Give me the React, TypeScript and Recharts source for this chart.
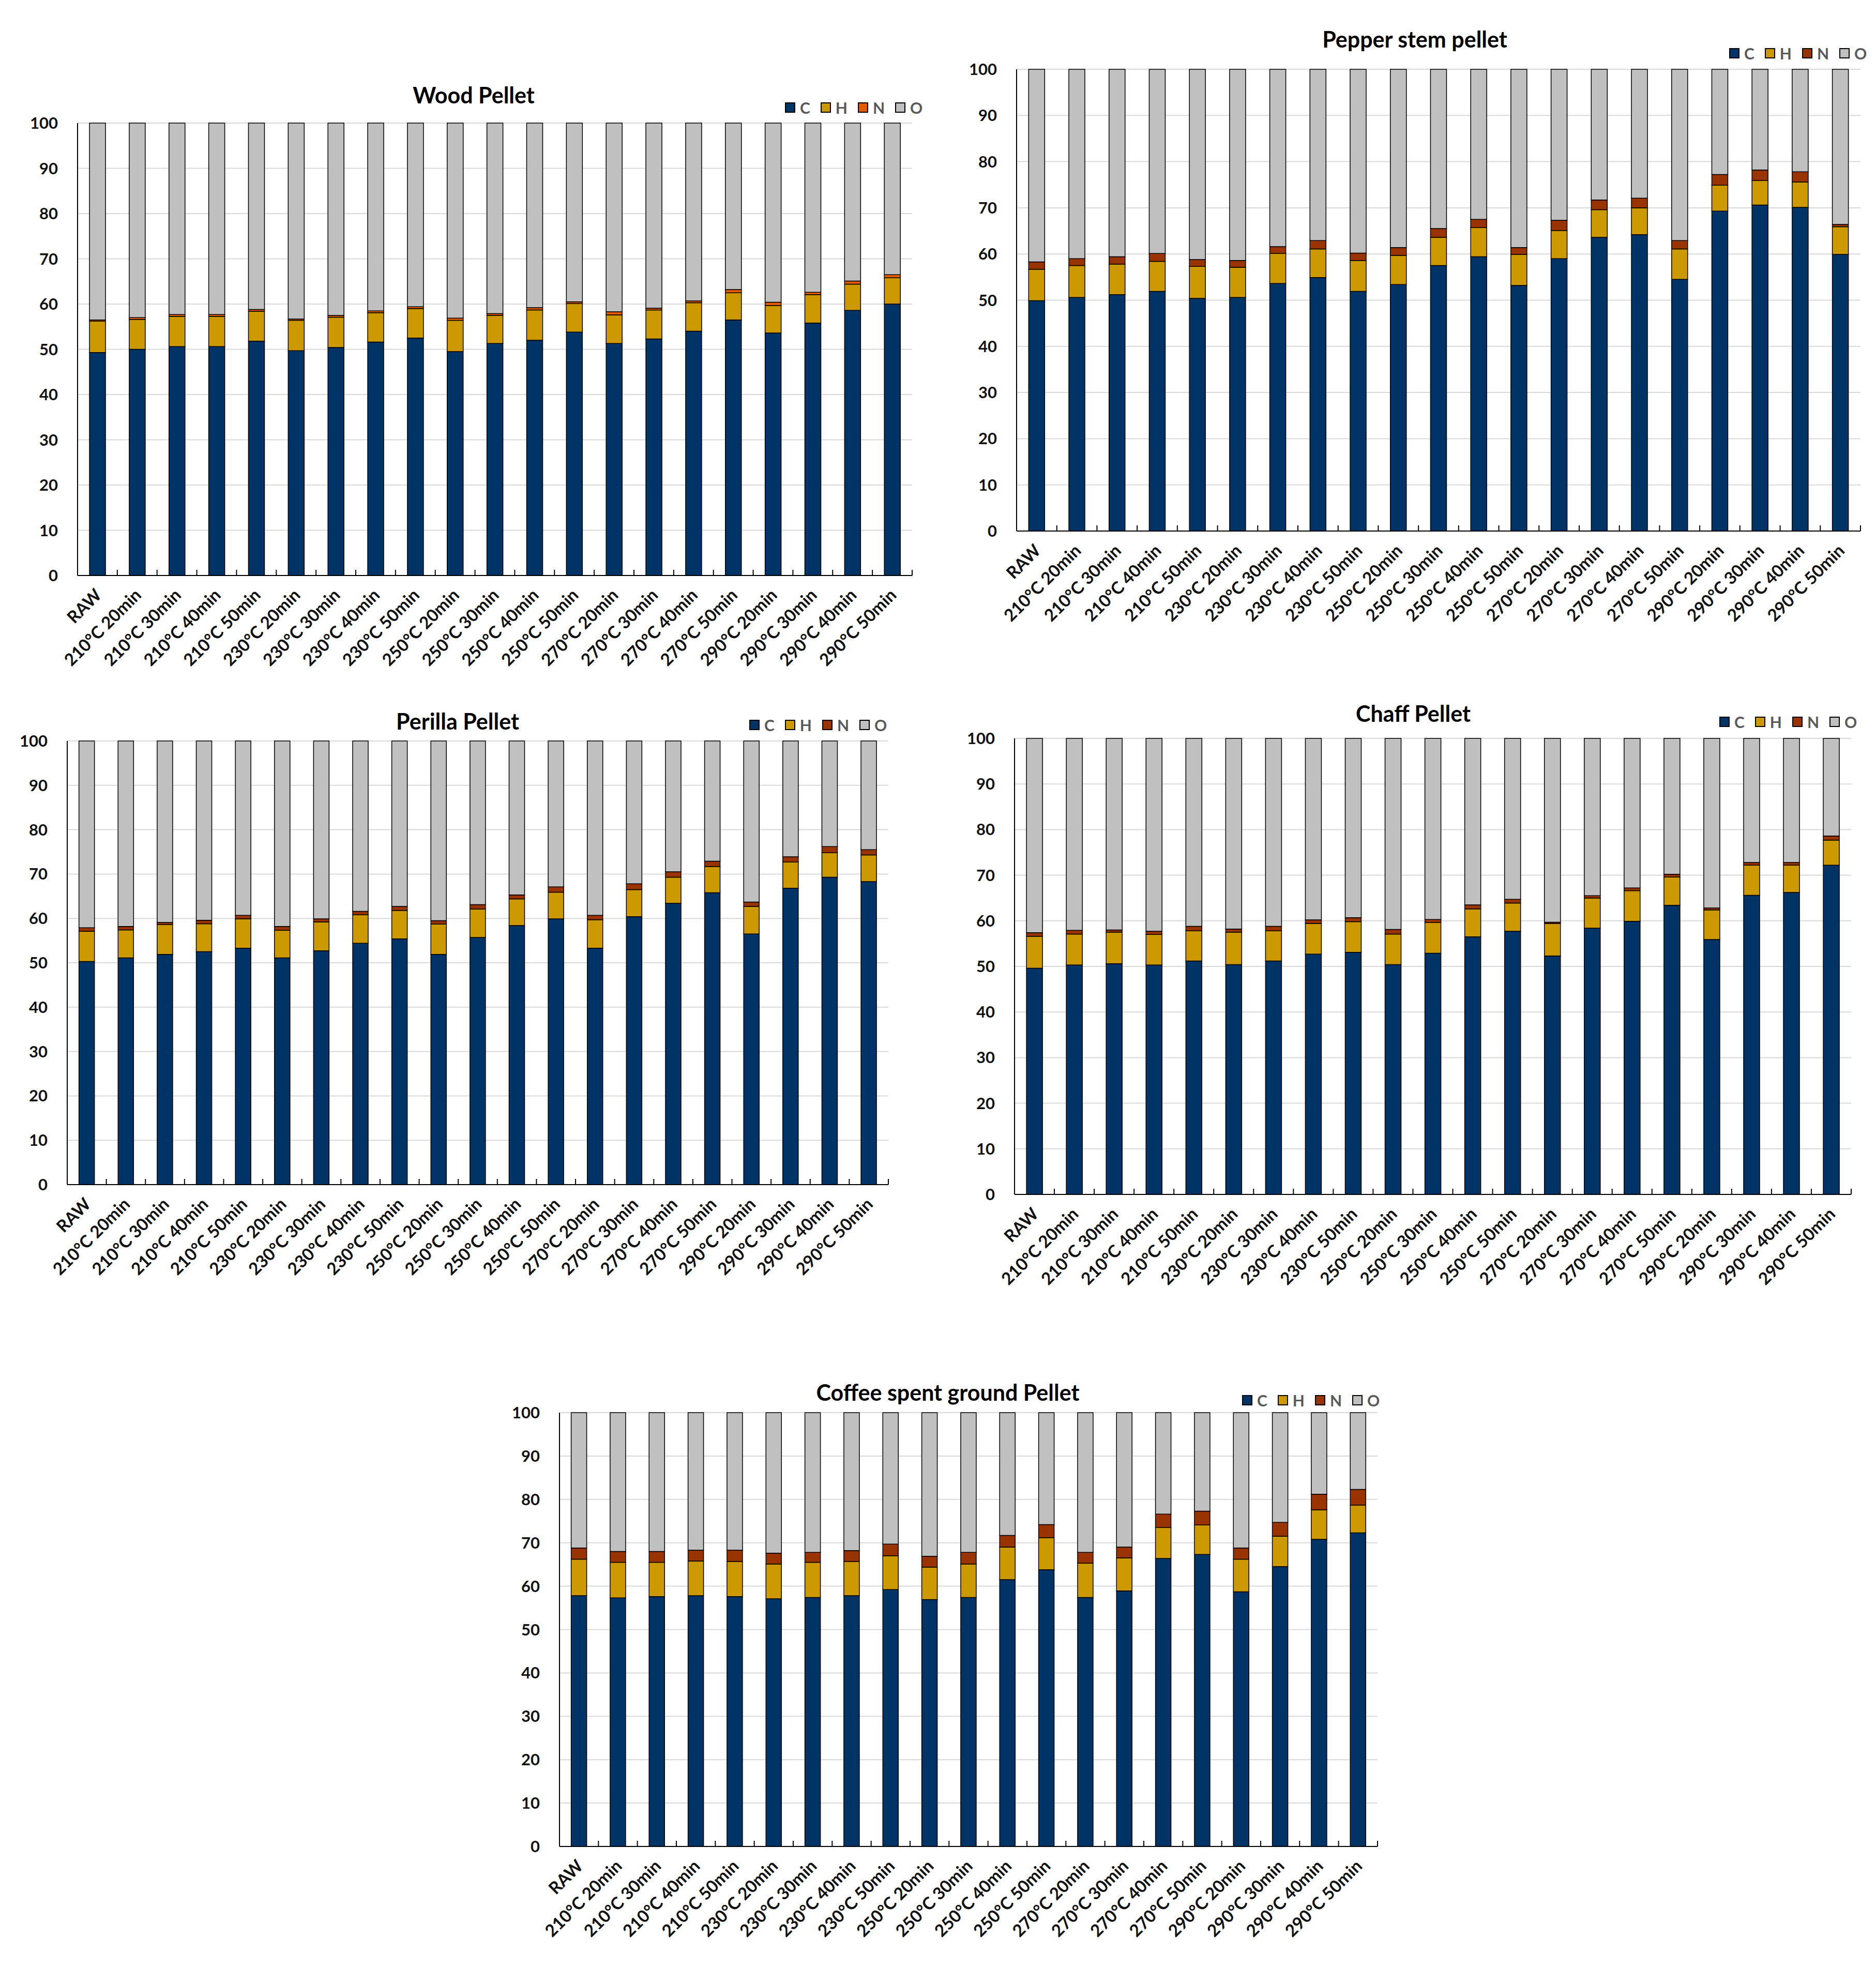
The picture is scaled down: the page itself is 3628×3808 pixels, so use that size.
import { BarChart, Bar, XAxis, YAxis, CartesianGrid } from 'recharts';

const categories = [
    'RAW',
    '210°C 20min', '210°C 30min', '210°C 40min', '210°C 50min',
    '230°C 20min', '230°C 30min', '230°C 40min', '230°C 50min',
    '250°C 20min', '250°C 30min', '250°C 40min', '250°C 50min',
    '270°C 20min', '270°C 30min', '270°C 40min', '270°C 50min',
    '290°C 20min', '290°C 30min', '290°C 40min', '290°C 50min',
];

const yTicks = [0, 10, 20, 30, 40, 50, 60, 70, 80, 90, 100];

// Wood Pellet (wt%)
const woodC = [49.3, 50.0, 50.6, 50.6, 51.8, 49.7, 50.4, 51.6, 52.5, 49.5, 51.3, 52.0, 53.8, 51.3, 52.3, 54.0, 56.5, 53.6, 55.8, 58.6, 60.0];
const woodH = [6.9, 6.6, 6.7, 6.7, 6.6, 6.7, 6.7, 6.5, 6.5, 6.9, 6.2, 6.7, 6.3, 6.3, 6.4, 6.3, 6.0, 6.1, 6.3, 5.8, 5.8];
const woodN = [0.3, 0.4, 0.4, 0.4, 0.4, 0.3, 0.4, 0.4, 0.4, 0.5, 0.4, 0.5, 0.4, 0.7, 0.4, 0.4, 0.7, 0.7, 0.5, 0.7, 0.7];
const woodO = [43.5, 43.0, 42.3, 42.3, 41.2, 43.3, 42.5, 41.5, 40.6, 43.1, 42.1, 40.8, 39.5, 41.7, 40.9, 39.3, 36.8, 39.6, 37.4, 34.9, 33.5];

// Pepper stem pellet
const pepperC = [49.9, 50.6, 51.2, 51.9, 50.4, 50.6, 53.6, 54.9, 51.9, 53.4, 57.5, 59.4, 53.2, 59.0, 63.6, 64.2, 54.5, 69.3, 70.6, 70.1, 59.9];
const pepperH = [6.8, 6.9, 6.6, 6.5, 6.9, 6.5, 6.5, 6.2, 6.7, 6.3, 6.1, 6.3, 6.7, 6.1, 6.0, 5.8, 6.6, 5.6, 5.3, 5.5, 6.0];
const pepperN = [1.6, 1.5, 1.6, 1.7, 1.5, 1.5, 1.5, 1.8, 1.6, 1.7, 1.9, 1.8, 1.5, 2.2, 2.1, 2.1, 1.8, 2.3, 2.3, 2.2, 0.5];
const pepperO = [41.7, 41.0, 40.6, 39.9, 41.2, 41.4, 38.4, 37.1, 39.8, 38.6, 34.5, 32.5, 38.6, 32.7, 28.3, 27.9, 37.1, 22.8, 21.8, 22.2, 33.6];

// Perilla Pellet
const perillaC = [50.3, 51.1, 51.9, 52.5, 53.3, 51.1, 52.7, 54.4, 55.4, 51.9, 55.7, 58.4, 59.9, 53.3, 60.4, 63.4, 65.8, 56.5, 66.8, 69.3, 68.3];
const perillaH = [6.8, 6.3, 6.7, 6.3, 6.6, 6.2, 6.5, 6.4, 6.4, 6.8, 6.4, 6.0, 6.0, 6.4, 6.1, 5.9, 5.9, 6.2, 5.9, 5.5, 6.0];
const perillaN = [0.8, 0.8, 0.5, 0.8, 0.8, 0.9, 0.7, 0.8, 0.9, 0.8, 1.0, 0.9, 1.2, 1.0, 1.3, 1.2, 1.2, 1.0, 1.2, 1.4, 1.2];
const perillaO = [42.1, 41.8, 40.9, 40.4, 39.3, 41.8, 40.1, 38.4, 37.3, 40.5, 36.9, 34.7, 32.9, 39.3, 32.2, 29.5, 27.1, 36.3, 26.1, 23.8, 24.5];

// Chaff Pellet
const chaffC = [49.6, 50.3, 50.6, 50.3, 51.2, 50.4, 51.2, 52.7, 53.1, 50.4, 52.9, 56.5, 57.7, 52.3, 58.4, 59.9, 63.4, 55.9, 65.6, 66.2, 72.2];
const chaffH = [7.0, 6.8, 6.9, 6.7, 6.6, 7.1, 6.6, 6.7, 6.7, 6.7, 6.7, 6.1, 6.2, 7.1, 6.6, 6.7, 6.2, 6.5, 6.6, 6.0, 5.5];
const chaffN = [0.8, 0.8, 0.5, 0.7, 1.0, 0.7, 1.0, 0.8, 0.9, 1.0, 0.7, 0.9, 0.8, 0.3, 0.5, 0.6, 0.6, 0.4, 0.6, 0.6, 0.9];
const chaffO = [42.6, 42.1, 42.0, 42.3, 41.2, 41.8, 41.2, 39.8, 39.3, 41.9, 39.7, 36.5, 35.3, 40.3, 34.5, 32.8, 29.8, 37.2, 27.2, 27.2, 21.4];

// Coffee spent ground Pellet
const coffeeC = [57.8, 57.3, 57.6, 57.8, 57.6, 57.1, 57.4, 57.8, 59.2, 56.9, 57.4, 61.5, 63.8, 57.4, 58.9, 66.4, 67.3, 58.7, 64.5, 70.8, 72.3];
const coffeeH = [8.4, 8.2, 7.9, 8.0, 8.1, 8.0, 8.1, 7.9, 7.8, 7.5, 7.7, 7.5, 7.4, 7.9, 7.6, 7.1, 6.8, 7.5, 7.0, 6.8, 6.4];
const coffeeN = [2.6, 2.5, 2.5, 2.5, 2.6, 2.5, 2.3, 2.5, 2.7, 2.5, 2.7, 2.7, 3.0, 2.5, 2.5, 3.1, 3.2, 2.6, 3.2, 3.6, 3.6];
const coffeeO = [31.2, 32.0, 32.0, 31.7, 31.7, 32.4, 32.2, 31.8, 30.3, 33.1, 32.2, 28.3, 25.8, 32.2, 31.0, 23.4, 22.7, 31.2, 25.3, 18.8, 17.7];

const FONT = 'Lato, "Open Sans", sans-serif';
const C_COLOR = '#003366';
const H_COLOR = '#CC9900';
const N_BROWN = '#993300';
const N_ORANGE = '#E55B00';
const O_COLOR = '#C0C0C0';

const YW = 150;
const XH = 250;
const MT = 30;
const MR = 10;

function buildRows(c: number[], h: number[], n: number[], o: number[]) {
    return categories.map((name, i) => ({ name, C: c[i], H: h[i], N: n[i], O: o[i] }));
}

// rotated category label plus the small inward tick mark on the band's right edge
const XTick = (props: any) => {
    const { x, y, payload, band } = props;
    const ax = x + 10;
    const ay = y + 40;
    return (
        <g>
            <line x1={x + band / 2} x2={x + band / 2} y1={y} y2={y - 11} stroke="#000" strokeWidth={2} />
            <text
                x={ax}
                y={ay}
                transform={`rotate(-45 ${ax} ${ay})`}
                textAnchor="end"
                fontSize={33}
                fontWeight={700}
                fontFamily={FONT}
                fill="#111"
            >
                {payload.value}
            </text>
        </g>
    );
};

type PanelProps = {
    title: string;
    rows: any[];
    nColor: string;
    left: number;
    top: number;
    right: number;
    bottom: number;
    titleX: number;
    titleY: number;
    legendX: number;
    legendY: number;
};

function Panel({ title, rows, nColor, left, top, right, bottom, titleX, titleY, legendX, legendY }: PanelProps) {
    const legendItems = [
        { key: 'C', color: C_COLOR },
        { key: 'H', color: H_COLOR },
        { key: 'N', color: nColor },
        { key: 'O', color: O_COLOR },
    ];
    const band = (right - left) / categories.length;
    return (
        <>
            <div
                style={{
                    position: 'absolute',
                    left: titleX,
                    top: titleY,
                    transform: 'translate(-50%, -50%)',
                    fontSize: 43,
                    fontWeight: 700,
                    color: '#000',
                    whiteSpace: 'nowrap',
                }}
            >
                {title}
            </div>
            <div
                style={{
                    position: 'absolute',
                    left: legendX,
                    top: legendY - 18,
                    height: 36,
                    display: 'flex',
                    alignItems: 'center',
                }}
            >
                {legendItems.map((it) => (
                    <div key={it.key} style={{ display: 'flex', alignItems: 'center', marginRight: 20 }}>
                        <span
                            style={{
                                width: 20,
                                height: 20,
                                boxSizing: 'border-box',
                                border: '2px solid #000',
                                background: it.color,
                                display: 'inline-block',
                            }}
                        />
                        <span style={{ marginLeft: 9, fontSize: 30, fontWeight: 700, color: '#595959' }}>{it.key}</span>
                    </div>
                ))}
            </div>
            <div style={{ position: 'absolute', left: left - YW, top: top - MT }}>
                <BarChart
                    width={right - left + YW + MR}
                    height={bottom - top + MT + XH}
                    data={rows}
                    margin={{ top: MT, right: MR, left: 0, bottom: 0 }}
                    barCategoryGap="30%"
                >
                    <CartesianGrid vertical={false} stroke="#d9d9d9" strokeWidth={2} />
                    <XAxis
                        dataKey="name"
                        interval={0}
                        height={XH}
                        tickLine={false}
                        tickSize={0}
                        tickMargin={0}
                        axisLine={{ stroke: '#000', strokeWidth: 2 }}
                        tick={<XTick band={band} />}
                    />
                    <YAxis
                        width={YW}
                        domain={[0, 100]}
                        ticks={yTicks}
                        interval={0}
                        tickLine={false}
                        tickSize={0}
                        tickMargin={38}
                        axisLine={{ stroke: '#000', strokeWidth: 2 }}
                        tick={{ fontSize: 31, fontWeight: 700, fill: '#111', fontFamily: FONT }}
                    />
                    <Bar dataKey="C" stackId="a" fill={C_COLOR} stroke="#000" strokeWidth={1.5} isAnimationActive={false} />
                    <Bar dataKey="H" stackId="a" fill={H_COLOR} stroke="#000" strokeWidth={1.5} isAnimationActive={false} />
                    <Bar dataKey="N" stackId="a" fill={nColor} stroke="#000" strokeWidth={1.5} isAnimationActive={false} />
                    <Bar dataKey="O" stackId="a" fill={O_COLOR} stroke="#000" strokeWidth={1.5} isAnimationActive={false} />
                </BarChart>
            </div>
        </>
    );
}

export default function App() {
    return (
        <div
            style={{
                position: 'relative',
                width: 3628,
                height: 3808,
                background: '#fff',
                fontFamily: FONT,
                overflow: 'hidden',
            }}
        >
            <style>{'body{margin:0;}'}</style>
            <Panel
                title="Wood Pellet"
                rows={buildRows(woodC, woodH, woodN, woodO)}
                nColor={N_ORANGE}
                left={150}
                top={238}
                right={1764}
                bottom={1113}
                titleX={916}
                titleY={183}
                legendX={1518}
                legendY={208}
            />
            <Panel
                title="Pepper stem pellet"
                rows={buildRows(pepperC, pepperH, pepperN, pepperO)}
                nColor={N_BROWN}
                left={1966}
                top={134}
                right={3598}
                bottom={1027}
                titleX={2736}
                titleY={75}
                legendX={3344}
                legendY={103}
            />
            <Panel
                title="Perilla Pellet"
                rows={buildRows(perillaC, perillaH, perillaN, perillaO)}
                nColor={N_BROWN}
                left={130}
                top={1433}
                right={1718}
                bottom={2291}
                titleX={885}
                titleY={1394}
                legendX={1449}
                legendY={1402}
            />
            <Panel
                title="Chaff Pellet"
                rows={buildRows(chaffC, chaffH, chaffN, chaffO)}
                nColor={N_BROWN}
                left={1962}
                top={1428}
                right={3580}
                bottom={2310}
                titleX={2733}
                titleY={1379}
                legendX={3325}
                legendY={1396}
            />
            <Panel
                title="Coffee spent ground Pellet"
                rows={buildRows(coffeeC, coffeeH, coffeeN, coffeeO)}
                nColor={N_BROWN}
                left={1082}
                top={2732}
                right={2664}
                bottom={3571}
                titleX={1833}
                titleY={2692}
                legendX={2402}
                legendY={2708}
            />
        </div>
    );
}
